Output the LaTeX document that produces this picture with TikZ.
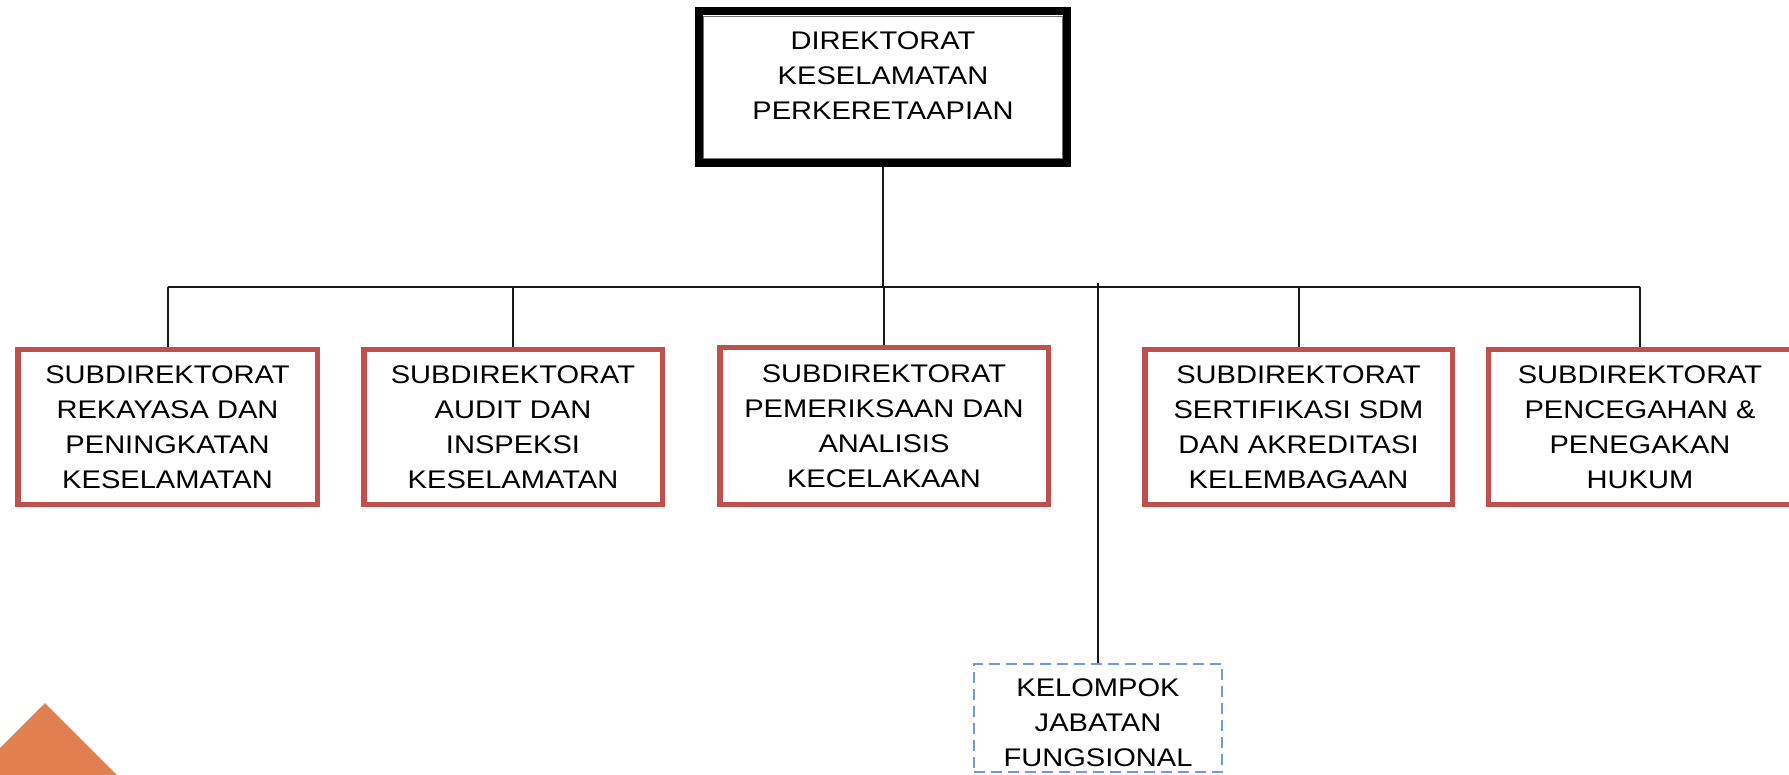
\documentclass[tikz,border=0pt]{standalone}
\usepackage{fontspec}
\setmainfont{Liberation Sans}[FakeStretch=1.14]
\definecolor{boxred}{RGB}{192,80,77}
\definecolor{kblue}{RGB}{108,157,214}
\definecolor{tri}{RGB}{224,127,79}
\begin{document}
\begin{tikzpicture}[x=1pt,y=-1pt,
  every node/.style={font=\fontsize{25.5}{35}\selectfont, text=black, align=center, inner sep=0pt},
  redbox/.style={draw=boxred, line width=5.5pt, minimum height=154.5pt},
  dirframe/.style={draw=black, line width=8pt},
  innerframe/.style={draw=black!55, line width=1.8pt},
  kbox/.style={draw=kblue, line width=2pt, dash pattern=on 11pt off 6pt},
  conn/.style={draw=black!90, line width=2pt}
]
\useasboundingbox (0,0) rectangle (1789,775);
\fill[tri] (45,703) -- (150,808) -- (-60,808) -- cycle;

% top box
\node[dirframe, minimum width=368pt, minimum height=152pt] (dir) at (883,87) {};
\draw[innerframe] ([shift={(8.5,9.5)}]dir.north west) rectangle ([shift={(-8.5,-8.5)}]dir.south east);
\node (dirtxt) at (883,76) {DIREKTORAT\\KESELAMATAN\\PERKERETAAPIAN};

% sub-directorates
\node[redbox, minimum width=299.5pt] (b1) at (167.5,427) {SUBDIREKTORAT\\REKAYASA DAN\\PENINGKATAN\\KESELAMATAN};
\node[redbox, minimum width=298.5pt] (b2) at (513,427) {SUBDIREKTORAT\\AUDIT DAN\\INSPEKSI\\KESELAMATAN};
\node[redbox, minimum width=328.5pt, minimum height=156.5pt] (b3) at (884,426) {SUBDIREKTORAT\\PEMERIKSAAN DAN\\ANALISIS\\KECELAKAAN};
\node[redbox, minimum width=307.5pt] (b4) at (1298.5,427) {SUBDIREKTORAT\\SERTIFIKASI SDM\\DAN AKREDITASI\\KELEMBAGAAN};
\node[redbox, minimum width=303pt] (b5) at (1640,427) {SUBDIREKTORAT\\PENCEGAHAN \&\\PENEGAKAN\\HUKUM};

% functional group
\node[kbox, minimum width=248pt, minimum height=108pt] (kjf) at (1098,718) {};
\node (kjftxt) at (1098,723) {KELOMPOK\\JABATAN\\FUNGSIONAL};

% connectors
\coordinate (bus) at (0,287);
\coordinate (kstart) at (1096,283);
\draw[conn] (b1.north |- bus) -- (b5.north |- bus);
\draw[conn] (dir.south) -- (dir.south |- bus);
\foreach \b in {b1,b2,b3,b4,b5} {
  \draw[conn] (\b.north) -- (\b.north |- bus);
}
\draw[conn] (kjf.north |- kstart) -- (kjf.north);
\end{tikzpicture}
\end{document}
